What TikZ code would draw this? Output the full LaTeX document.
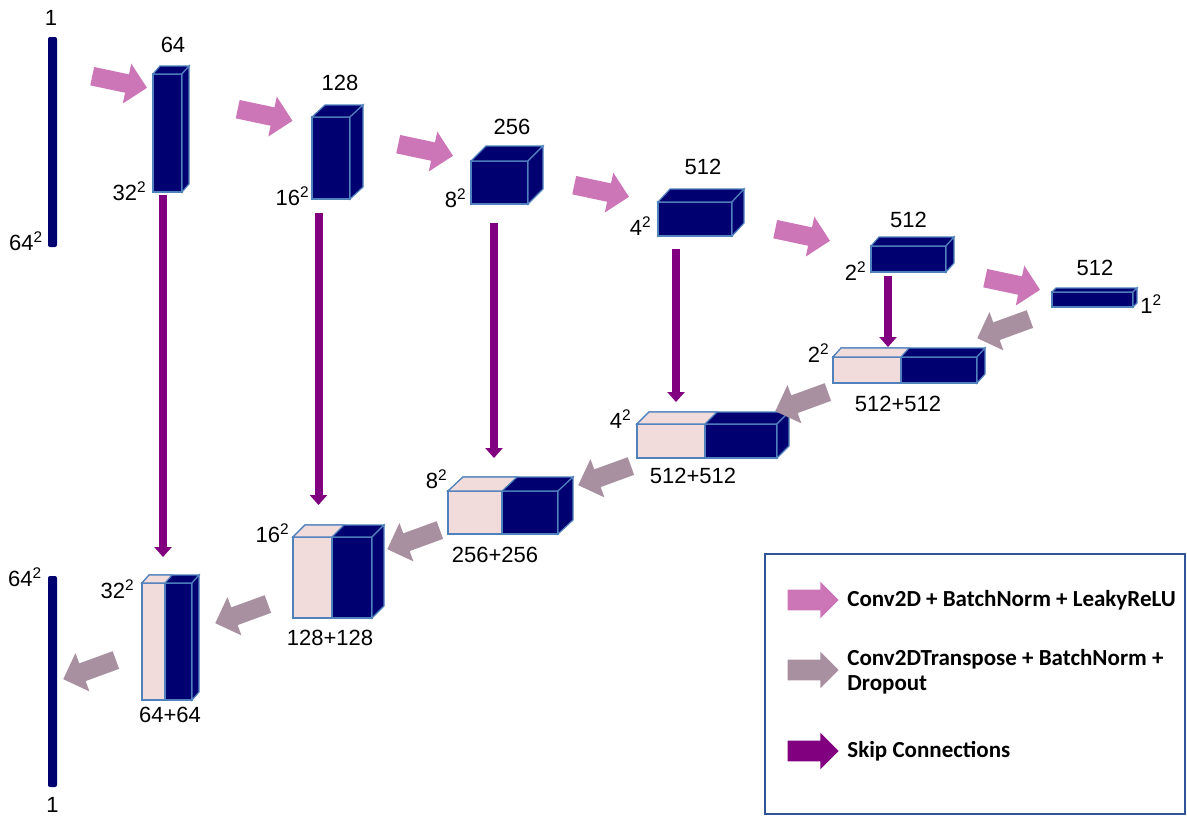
\documentclass[tikz,border=0pt]{standalone}
\usepackage{fontspec}
\setmainfont{Liberation Sans}
\newfontfamily\legendfont{Carlito}
\usepackage{tikz}
\usetikzlibrary{positioning,calc,shapes.arrows,arrows.meta}

\definecolor{navy}{RGB}{0,0,112}
\definecolor{edgeblue}{RGB}{79,129,189}
\definecolor{concat}{RGB}{242,220,219}
\definecolor{downpink}{RGB}{204,118,184}
\definecolor{upgray}{RGB}{168,144,160}
\definecolor{skippurple}{RGB}{128,0,128}
\definecolor{frameblue}{RGB}{47,85,151}

\tikzset{
	face/.style={fill=navy, draw=edgeblue, line width=0.6pt, inner sep=0pt, outer sep=0pt},
	half/.style={fill=concat, draw=edgeblue, line width=0.6pt},
	lbl/.style={font=\fontsize{11}{13}\selectfont, inner sep=0pt},
	fat/.style={single arrow, fill=#1, draw=none, inner sep=4.5pt, minimum height=28pt, single arrow head extend=5.5pt},
	keyarrow/.style={fat=#1, inner sep=5pt, minimum height=25.5pt, single arrow head extend=4pt},
	skip/.style={skippurple, line width=4pt, -{Triangle[width=8.5pt,length=5pt]}},
	bar/.style={fill=navy, rounded corners=1pt, inner sep=0pt, minimum width=4.5pt},
	legendtext/.style={font=\legendfont\bfseries\fontsize{11.5}{12.5}\selectfont, anchor=west, align=left, inner sep=0pt},
}

% front face is a node, top and side are drawn from its corners
\newcommand\block[6]{% name, centre, width, height, depth x, depth y
	\node[face, minimum width=#3*0.5pt, minimum height=#4*0.5pt] (#1) at #2 {};
	\filldraw[face] (#1.north west) -- ++(#5,#6) -- ($(#1.north east)+(#5,#6)$) -- (#1.north east) -- cycle;
	\filldraw[face] (#1.north east) -- ++(#5,#6) -- ($(#1.south east)+(#5,#6)$) -- (#1.south east) -- cycle;
}
\newcommand\catblock[7]{% as \block, plus width of the light half
	\block{#1}{#2}{#3}{#4}{#5}{#6}
	\filldraw[half] (#1.south west) rectangle ($(#1.north west)+(#7,0)$);
	\filldraw[half] (#1.north west) -- ++(#5,#6) -- ++(#7,0) -- ($(#1.north west)+(#7,0)$) -- cycle;
}

\begin{document}
\begin{tikzpicture}[x=0.5pt,y=-0.5pt]
	\useasboundingbox (0,0) rectangle (1187,816);

	% input and output
	\node[bar, minimum height=105pt] (inbar) at (52.5,142) {};
	\node[bar, minimum height=105.5pt] (outbar) at (52.5,681.5) {};
	\node[lbl, anchor=base] at ([shift={(-1.5,-11)}]inbar.north) {1};
	\node[lbl, anchor=base east] at ([shift={(-4,3)}]inbar.south west) {64\textsuperscript{2}};
	\node[lbl, anchor=base east] at ([shift={(-5,11)}]outbar.north west) {64\textsuperscript{2}};
	\node[lbl, anchor=base] at ([shift={(0,25)}]outbar.south) {1};

	% encoder
	\block{e1}{(167.5,133)}{29}{118}{7}{-8}
	\block{e2}{(331,158)}{38}{82}{13}{-12}
	\block{e3}{(499.5,182.5)}{57}{43}{15}{-15}
	\block{e4}{(695,219)}{74}{34}{12}{-13}
	\block{e5}{(908.5,259)}{75}{26}{8}{-9}
	\block{e6}{(1092.5,299.5)}{81}{15}{4}{-4}

	\node[lbl, anchor=base] at ([shift={(5.5,-22)}]e1.north) {64};
	\node[lbl, anchor=base] at ([shift={(9,-27)}]e2.north) {128};
	\node[lbl, anchor=base] at ([shift={(12.5,-27)}]e3.north) {256};
	\node[lbl, anchor=base] at ([shift={(8,-28)}]e4.north) {512};
	\node[lbl, anchor=base] at ([shift={(0,-19)}]e5.north) {512};
	\node[lbl, anchor=base] at ([shift={(2.5,-17)}]e6.north) {512};

	\node[lbl, anchor=base east] at ([shift={(-6,8)}]e1.south west) {32\textsuperscript{2}};
	\node[lbl, anchor=base east] at ([shift={(-2,6)}]e2.south west) {16\textsuperscript{2}};
	\node[lbl, anchor=base east] at ([shift={(-4,3)}]e3.south west) {8\textsuperscript{2}};
	\node[lbl, anchor=base east] at ([shift={(-6,-1)}]e4.south west) {4\textsuperscript{2}};
	\node[lbl, anchor=base east] at ([shift={(-4,8)}]e5.south west) {2\textsuperscript{2}};
	\node[lbl, anchor=base west] at ([shift={(7,6)}]e6.south east) {1\textsuperscript{2}};

	% decoder
	\catblock{d5}{(905,370)}{144}{26}{8}{-9}{68}
	\catblock{d4}{(707,441)}{140}{34}{12}{-12}{68}
	\catblock{d3}{(503,512.5)}{110}{43}{15}{-14}{54}
	\catblock{d2}{(332.5,577.5)}{79}{81}{12}{-12}{39}
	\catblock{d1}{(167,641.5)}{50}{117}{7}{-8}{23}

	\node[lbl, anchor=base east] at ([shift={(-3,5)}]d5.north west) {2\textsuperscript{2}};
	\node[lbl, anchor=base east] at ([shift={(-5,4)}]d4.north west) {4\textsuperscript{2}};
	\node[lbl, anchor=base east] at ([shift={(0,-3)}]d3.north west) {8\textsuperscript{2}};
	\node[lbl, anchor=base east] at ([shift={(-3,5)}]d2.north west) {16\textsuperscript{2}};
	\node[lbl, anchor=base east] at ([shift={(-7,15)}]d1.north west) {32\textsuperscript{2}};

	\node[lbl, anchor=base] at ([shift={(-7,28)}]d5.south) {512+512};
	\node[lbl, anchor=base] at ([shift={(-14,25)}]d4.south) {512+512};
	\node[lbl, anchor=base] at ([shift={(-8,28)}]d3.south) {256+256};
	\node[lbl, anchor=base] at ([shift={(-2.5,27)}]d2.south) {128+128};
	\node[lbl, anchor=base] at ([shift={(3,22)}]d1.south) {64+64};

	% down and up steps
	\node[fat=downpink, rotate=-12] (p1) at (115,81) {};
	\node[fat=downpink, rotate=-12] (p2) at (260.5,114) {};
	\node[fat=downpink, rotate=-12] (p3) at (421,149) {};
	\node[fat=downpink, rotate=-12] (p4) at (597,190) {};
	\node[fat=downpink, rotate=-12] (p5) at (798,234) {};
	\node[fat=downpink, rotate=-12] (p6) at (1008,283) {};

	\node[fat=upgray, rotate=200] (g1) at (1008,327) {};
	\node[fat=upgray, rotate=200] (g2) at (806,400) {};
	\node[fat=upgray, rotate=200] (g3) at (609,474) {};
	\node[fat=upgray, rotate=200] (g4) at (418,538) {};
	\node[fat=upgray, rotate=200] (g5) at (246,612) {};
	\node[fat=upgray, rotate=200] (g6) at (94,668) {};

	% skip connections
	\draw[skip] ($(e1.south)+(-4.5,3)$) -- ($(e1.south |- d1.north)+(-4.5,-26)$);
	\draw[skip] ($(e2.south)+(-12.5,14)$) -- ($(e2.south |- d2.north)+(-12.5,-32)$);
	\draw[skip] ($(e3.south)+(-5.5,19)$) -- ($(e3.south |- d3.north)+(-5.5,-33)$);
	\draw[skip] ($(e4.south)+(-19,13)$) -- ($(e4.south |- d4.north)+(-19,-22)$);
	\draw[skip] ($(e5.south)+(-20.5,4)$) -- ($(e5.south |- d5.north)+(-20.5,-10)$);

	% legend
	\draw[frameblue, line width=1.2pt] (765,554) rectangle (1185,814);
	\node[keyarrow=downpink] (k1) at (808,600) {};
	\node[keyarrow=upgray] (k2) at (808,670) {};
	\node[keyarrow=skippurple] (k3) at (808,751) {};
	\node[legendtext] at (847,600) {Conv2D + BatchNorm + LeakyReLU};
	\node[legendtext] at (847,672) {Conv2DTranspose + BatchNorm +\\Dropout};
	\node[legendtext] at (847,751) {Skip Connections};
\end{tikzpicture}
\end{document}
